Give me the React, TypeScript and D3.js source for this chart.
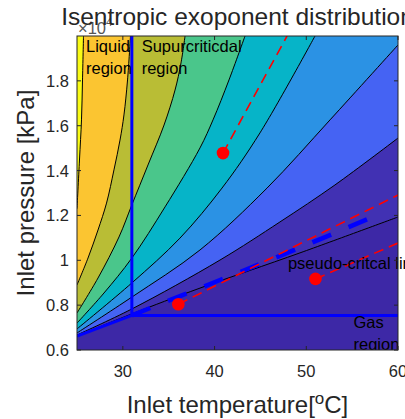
import React from 'react';
import * as d3 from 'd3';

const W = 405;
const H = 419;

// axis domains & ticks
const tempDomain = [25, 60];
const presDomain = [0.6, 2.0];
const tempTicks = [30, 40, 50, 60];
const presTicks = [0.6, 0.8, 1.0, 1.2, 1.4, 1.6, 1.8];
const presTickLabels = ['0.6', '0.8', '1', '1.2', '1.4', '1.6', '1.8'];

// region colours, from top-left (high exponent) to bottom-right
const levelColors = [
  '#F9FB15', '#FBC531', '#B9BD35', '#4AC68B', '#06B4C8',
  '#2B92E4', '#4563F3', '#4131B3', '#3D28A6',
];

// contour lines [T (°C), p (x10^4 kPa)]
const contourA = [[25, 1.23], [25.27, 1.447], [25.49, 1.626], [25.6, 1.804], [25.71, 2.0]];
const contourB = [[25, 0.89], [26.2, 1.01], [27.29, 1.135], [28.22, 1.255], [29.03, 1.403], [29.69, 1.536], [30.12, 1.648], [30.51, 1.804], [30.83, 2.0]];
const contourC = [[25, 0.765], [27.29, 0.921], [29.58, 1.104], [30.98, 1.247], [32.74, 1.425], [34.49, 1.603], [35.69, 1.759], [36.34, 1.88], [36.78, 2.0]];
const contourD = [[25, 0.72], [27.94, 0.854], [30.98, 1.01], [34.6, 1.238], [38.41, 1.501], [39.83, 1.626], [41.57, 1.804], [43.32, 2.0]];
const contourE = [[25, 0.694], [30.98, 0.899], [36.23, 1.099], [40.81, 1.322], [44.95, 1.568], [50.95, 2.0]];
const contourF = [[25, 0.676], [30.98, 0.836], [38.41, 1.046], [45.72, 1.322], [52.59, 1.626], [60, 1.96]];
const contourG = [[25, 0.667], [30.98, 0.783], [40.59, 1.001], [47.13, 1.171], [53.13, 1.336], [60, 1.545]];
const contourH = [[25, 0.662], [30.98, 0.761], [38.41, 0.876], [49.31, 1.033], [60, 1.193]];
const contourLines = [contourA, contourB, contourC, contourD, contourE, contourF, contourG, contourH];

// region boundaries
const saturationLine = [[25, 0.662], [30.98, 0.754]];
const criticalIsotherm = [[30.98, 0.754], [30.98, 2.0]];
const criticalIsobar = [[30.98, 0.754], [60, 0.754]];
const pseudoCriticalLine = [[30.98, 0.754], [40.59, 0.912], [48.82, 1.048], [58.25, 1.211]];

// state points and their dashed paths
const pointTemps = [40.92, 51.0, 36.05];
const pointPressures = [1.478, 0.917, 0.804];
const pathEndTemps = [47.9, 60, 60];
const pathEndPressures = [2.0, 1.077, 1.291];

export default function App() {
  const x = d3.scaleLinear().domain(tempDomain).range([77, 398]);
  const y = d3.scaleLinear().domain(presDomain).range([350, 36]);
  const [x0, x1] = x.range();
  const [y0, y1] = y.range();

  const curveLine = d3
    .line<number[]>()
    .x((d) => x(d[0]))
    .y((d) => y(d[1]))
    .curve(d3.curveCatmullRom.alpha(0.5));
  const straight = d3
    .line<number[]>()
    .x((d) => x(d[0]))
    .y((d) => y(d[1]));

  const regionPath = (pts: number[][]) => {
    let s = curveLine(pts) as string;
    const last = pts[pts.length - 1];
    if (last[0] >= tempDomain[1] - 0.01) s += `L${x(tempDomain[1])},${y(presDomain[1])}`;
    s += `L${x(tempDomain[0])},${y(presDomain[1])}Z`;
    return s;
  };

  const font = '"Liberation Sans", Arial, Helvetica, sans-serif';
  const axisColor = '#262626';
  const tickLen = 4;

  return (
    <svg
      width={W}
      height={H}
      style={{ position: 'absolute', left: 0, top: 0, background: '#fff' }}
      fontFamily={font}
    >
      <defs>
        <clipPath id="plotClip">
          <rect x={x0} y={y1} width={x1 - x0} height={y0 - y1} />
        </clipPath>
      </defs>

      <g clipPath="url(#plotClip)">
        <rect x={x0} y={y1} width={x1 - x0} height={y0 - y1} fill={levelColors[8]} />
        {contourLines
          .map((pts, i) => ({ pts, i }))
          .reverse()
          .map(({ pts, i }) => (
            <path key={'r' + i} d={regionPath(pts)} fill={levelColors[i]} stroke="none" />
          ))}
        {contourLines.map((pts, i) => (
          <path key={'c' + i} d={curveLine(pts) as string} fill="none" stroke="#000" strokeWidth={1} />
        ))}

        {/* phase boundaries */}
        <path d={straight(saturationLine) as string} stroke="#0000FF" strokeWidth={3} fill="none" />
        <path d={straight(criticalIsotherm) as string} stroke="#0000FF" strokeWidth={3} fill="none" />
        <path d={straight(criticalIsobar) as string} stroke="#0000FF" strokeWidth={3} fill="none" />
        <path
          d={curveLine(pseudoCriticalLine) as string}
          stroke="#0000FF"
          strokeWidth={4.5}
          strokeDasharray="20,19"
          fill="none"
        />

        {/* red dashed paths */}
        {pointTemps.map((t, i) => (
          <path
            key={'rl' + i}
            d={straight([[t, pointPressures[i]], [pathEndTemps[i], pathEndPressures[i]]]) as string}
            stroke="#FF0000"
            strokeWidth={1.6}
            strokeDasharray="10,6"
            fill="none"
          />
        ))}
        {pointTemps.map((t, i) => (
          <circle key={'pt' + i} cx={x(t)} cy={y(pointPressures[i])} r={6.3} fill="#FF0000" />
        ))}

        <text x={x(55.15)} y={y(0.6) - 22} fontSize={16.5} fill="#000">Gas</text>
        <text x={x(55.15)} y={y(0.6)} fontSize={16.5} fill="#000">region</text>
      </g>

      {/* annotations */}
      <text x={x(25.98)} y={52} fontSize={16.5} fill="#000">Liquid</text>
      <text x={x(25.98)} y={74} fontSize={16.5} fill="#000">region</text>
      <text x={x(32.05)} y={52} fontSize={16.5} fill="#000">Supurcriticdal</text>
      <text x={x(32.05)} y={74} fontSize={16.5} fill="#000">region</text>
      <text x={x(48.0)} y={268.5} fontSize={16.5} fill="#000">pseudo-critcal line</text>

      {/* axes box */}
      <rect x={x0} y={y1} width={x1 - x0} height={y0 - y1} fill="none" stroke={axisColor} strokeWidth={1} />
      {tempTicks.map((t) => (
        <g key={'xt' + t}>
          <line x1={x(t)} x2={x(t)} y1={y0} y2={y0 - tickLen} stroke={axisColor} />
          <line x1={x(t)} x2={x(t)} y1={y1} y2={y1 + tickLen} stroke={axisColor} />
          <text x={x(t)} y={y0 + 27} fontSize={16.5} textAnchor="middle" fill={axisColor}>
            {t}
          </text>
        </g>
      ))}
      {presTicks.map((p, i) => (
        <g key={'yt' + p}>
          <line x1={x0} x2={x0 + tickLen} y1={y(p)} y2={y(p)} stroke={axisColor} />
          <line x1={x1} x2={x1 - tickLen} y1={y(p)} y2={y(p)} stroke={axisColor} />
          <text x={x0 - 8} y={y(p)} dy="0.36em" fontSize={16.5} textAnchor="end" fill={axisColor}>
            {presTickLabels[i]}
          </text>
        </g>
      ))}

      {/* exponent */}
      <text x={78} y={34} fontSize={16.5} fill="#555">
        ×10<tspan dy={-8} fontSize={11.5}>4</tspan>
      </text>

      {/* title */}
      <text x={(x0 + x1) / 2} y={25} fontSize={24.5} textAnchor="middle" fill={axisColor}>
        Isentropic exoponent distribution
      </text>

      {/* axis labels */}
      <text x={(x0 + x1) / 2} y={413} fontSize={24} textAnchor="middle" fill={axisColor}>
        Inlet temperature[<tspan dy={-9} fontSize={17}>o</tspan>
        <tspan dy={9} fontSize={24}>C]</tspan>
      </text>
      <text
        transform={`translate(34,${(y0 + y1) / 2}) rotate(-90)`}
        fontSize={24}
        textAnchor="middle"
        fill={axisColor}
      >
        Inlet pressure [kPa]
      </text>
    </svg>
  );
}
